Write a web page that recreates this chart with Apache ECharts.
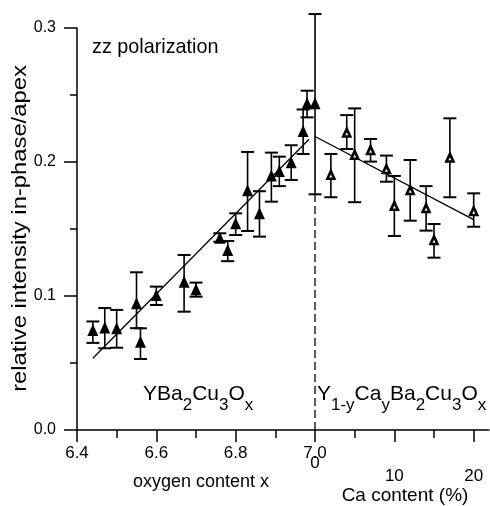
<!DOCTYPE html>
<html><head><meta charset="utf-8">
<script src="https://cdn.jsdelivr.net/npm/echarts@6/dist/echarts.min.js"></script>
<style>html,body{margin:0;padding:0;background:#fff}#c{width:490px;height:506px}</style>
</head><body><div id="c"></div>
<script>
// ---- data ----
const oxygenX    = [6.44, 6.47, 6.50, 6.55, 6.56, 6.60, 6.67, 6.70, 6.76, 6.78, 6.80, 6.83, 6.86, 6.89, 6.91, 6.94, 6.97, 6.98, 7.00];
const oxygenY    = [0.0746, 0.0764, 0.0759, 0.0945, 0.0659, 0.1007, 0.1107, 0.105, 0.1435, 0.1343, 0.1542, 0.179, 0.1617, 0.190, 0.1933, 0.1998, 0.2231, 0.2438, 0.2438];
const oxygenLow  = [0.065, 0.061, 0.0614, 0.076, 0.053, 0.0933, 0.0883, 0.0995, 0.1405, 0.126, 0.1455, 0.1485, 0.1443, 0.1704, 0.182, 0.1866, 0.206, 0.2333, 0.1759];
const oxygenHigh = [0.081, 0.091, 0.0896, 0.1177, 0.0759, 0.107, 0.1306, 0.110, 0.1468, 0.141, 0.1617, 0.2075, 0.1782, 0.2070, 0.204, 0.2125, 0.2392, 0.2532, 0.3104];

const caX    = [2, 4, 5, 7, 9, 10, 12, 14, 15, 17, 20];
const caY    = [0.191, 0.2226, 0.206, 0.2095, 0.1953, 0.168, 0.1796, 0.1662, 0.1423, 0.204, 0.164];
const caLow  = [0.1737, 0.2097, 0.170, 0.2003, 0.1853, 0.1448, 0.1562, 0.1488, 0.1286, 0.1737, 0.1517];
const caHigh = [0.206, 0.235, 0.240, 0.2172, 0.2048, 0.1896, 0.2015, 0.182, 0.1537, 0.2326, 0.1766];

const oxygenFitX = [6.44, 6.985];
const oxygenFitY = [0.0535, 0.217];
const caFitX = [0, 20];
const caFitY = [0.219, 0.157];
const dividerX = [0, 0];
const dividerY = [0, 0.176];

const oxygenTickLabels = [6.4, 6.6, 6.8, 7.0];
const oxygenMinorTicks = [6.5, 6.7, 6.9];
const caTickLabelsA = [0];
const caTickLabelsB = [10, 20];
const caMajorTicks = [0, 10, 20];
const caMinorTicks = [5, 15];
const yTickLabels = [0, 0.1, 0.2, 0.3];

const yTitle = 'relative intensity in-phase/apex';
const oxygenTitle = 'oxygen content x';
const caTitle = 'Ca content (%)';
const panelTitle = 'zz polarization';

// ---- helpers ----
const FONT = '"Liberation Sans", Arial, Helvetica, sans-serif';
const zip = (a, b) => a.map((v, i) => [v, b[i]]);
const zip3 = (a, b, c) => a.map((v, i) => [v, b[i], c[i]]);

function errRender(params, api) {
  const x = api.value(0), lo = api.value(1), hi = api.value(2);
  const pLo = api.coord([x, lo]);
  const pHi = api.coord([x, hi]);
  const hw = 6.5;
  const st = { stroke: '#000', lineWidth: 1.6 };
  const cap = { stroke: '#000', lineWidth: 2 };
  return {
    type: 'group',
    children: [
      { type: 'line', shape: { x1: pLo[0], y1: pLo[1], x2: pHi[0], y2: pHi[1] }, style: st },
      { type: 'line', shape: { x1: pHi[0] - hw, y1: pHi[1], x2: pHi[0] + hw, y2: pHi[1] }, style: cap },
      { type: 'line', shape: { x1: pLo[0] - hw, y1: pLo[1], x2: pLo[0] + hw, y2: pLo[1] }, style: cap }
    ]
  };
}

const axLine = { show: true, onZero: false, lineStyle: { color: '#000', width: 1.5 } };
const noLine = { show: false, onZero: false };
const tickStyle = { color: '#000', width: 1.5 };
const OXMIN = 6.4, OXMAX = 7.4386;
const CAMIN = -30, CAMAX = (OXMAX - 7) * 50;

const richSub = {
  m: { fontSize: 21, fontFamily: FONT, lineHeight: 21, verticalAlign: 'top', fill: '#000' },
  s: { fontSize: 17, fontFamily: FONT, lineHeight: 30, verticalAlign: 'bottom', fill: '#000' }
};

const chart = echarts.init(document.getElementById('c'), null, { renderer: 'canvas' });
chart.setOption({
  animation: false,
  backgroundColor: '#fff',
  grid: { left: 77, top: 28, width: 412, height: 402, containLabel: false, outerBoundsMode: 'none' },
  xAxis: [
    { type: 'value', position: 'bottom', min: OXMIN, max: OXMAX, axisLine: axLine,
      axisTick: { show: true, customValues: oxygenTickLabels, length: 12, lineStyle: tickStyle },
      axisLabel: { show: true, customValues: oxygenTickLabels, formatter: v => v.toFixed(1), fontSize: 17, fontFamily: FONT, color: '#000', margin: 15 },
      splitLine: { show: false } },
    { type: 'value', position: 'bottom', min: OXMIN, max: OXMAX, axisLine: noLine,
      axisTick: { show: true, customValues: oxygenMinorTicks, length: 8, lineStyle: tickStyle },
      axisLabel: { show: false }, splitLine: { show: false } },
    { type: 'value', position: 'bottom', min: CAMIN, max: CAMAX, axisLine: noLine,
      axisTick: { show: true, customValues: caMajorTicks, length: 12, lineStyle: tickStyle },
      axisLabel: { show: true, customValues: caTickLabelsA, formatter: v => String(v), fontSize: 17, fontFamily: FONT, color: '#000', margin: 25 },
      splitLine: { show: false } },
    { type: 'value', position: 'bottom', min: CAMIN, max: CAMAX, axisLine: noLine,
      axisTick: { show: true, customValues: caMinorTicks, length: 8, lineStyle: tickStyle },
      axisLabel: { show: true, customValues: caTickLabelsB, formatter: v => String(v), fontSize: 17, fontFamily: FONT, color: '#000', margin: 38 },
      splitLine: { show: false } }
  ],
  yAxis: [{
    type: 'value', min: 0, max: 0.3, interval: 0.1, axisLine: axLine,
    axisTick: { show: true, length: 13, lineStyle: tickStyle },
    minorTick: { show: true, splitNumber: 2, length: 7, lineStyle: tickStyle },
    axisLabel: { customValues: yTickLabels, formatter: v => v.toFixed(1), fontSize: 16, fontFamily: FONT, color: '#000', margin: 21 },
    splitLine: { show: false }, minorSplitLine: { show: false }
  }],
  graphic: [
    { type: 'text', x: 20.5, y: 228.5, rotation: Math.PI / 2, scaleX: 1.22, silent: true,
      style: { text: yTitle, font: '19.5px ' + FONT, fill: '#000', align: 'center', verticalAlign: 'middle' } },
    { type: 'text', x: 92, y: 48, silent: true,
      style: { text: panelTitle, font: '19.8px ' + FONT, fill: '#000', align: 'left', verticalAlign: 'middle' } },
    { type: 'text', x: 201, y: 482, silent: true,
      style: { text: oxygenTitle, font: '18px ' + FONT, fill: '#000', align: 'center', verticalAlign: 'middle' } },
    { type: 'text', x: 405, y: 496, silent: true,
      style: { text: caTitle, font: '19px ' + FONT, fill: '#000', align: 'center', verticalAlign: 'middle' } },
    { type: 'text', x: 143, y: 384, silent: true,
      style: { text: '{m|YBa}{s|2}{m|Cu}{s|3}{m|O}{s|x}', fill: '#000', align: 'left', verticalAlign: 'top', rich: richSub } },
    { type: 'text', x: 317, y: 384, silent: true,
      style: { text: '{m|Y}{s|1-y}{m|Ca}{s|y}{m|Ba}{s|2}{m|Cu}{s|3}{m|O}{s|x}', fill: '#000', align: 'left', verticalAlign: 'top', rich: richSub } }
  ],
  series: [
    { type: 'line', xAxisIndex: 0, data: zip(oxygenFitX, oxygenFitY), symbol: 'none', silent: true,
      lineStyle: { color: '#000', width: 1.3 }, z: 1 },
    { type: 'line', xAxisIndex: 2, data: zip(caFitX, caFitY), symbol: 'none', silent: true,
      lineStyle: { color: '#000', width: 1.3 }, z: 1 },
    { type: 'line', xAxisIndex: 2, data: zip(dividerX, dividerY), symbol: 'none', silent: true,
      lineStyle: { color: '#000', width: 1.3, type: [8, 4] }, z: 1 },
    { type: 'custom', xAxisIndex: 0, data: zip3(oxygenX, oxygenLow, oxygenHigh), renderItem: errRender,
      encode: { x: 0, y: [1, 2] }, clip: false, silent: true, z: 2 },
    { type: 'custom', xAxisIndex: 2, data: zip3(caX, caLow, caHigh), renderItem: errRender,
      encode: { x: 0, y: [1, 2] }, clip: false, silent: true, z: 2 },
    { type: 'scatter', xAxisIndex: 0, data: zip(oxygenX, oxygenY), symbol: 'triangle', symbolSize: [11, 12],
      itemStyle: { color: '#000', opacity: 1 }, silent: true, z: 3 },
    { type: 'scatter', xAxisIndex: 2, data: zip(caX, caY), symbol: 'triangle', symbolSize: [11, 12],
      itemStyle: { color: '#000', opacity: 1 }, silent: true, z: 3 },
    { type: 'scatter', xAxisIndex: 2, data: zip(caX, caY), symbol: 'triangle', symbolSize: [3, 3],
      symbolOffset: [0, 2], itemStyle: { color: '#fff', opacity: 1 }, silent: true, z: 4 }
  ]
});
</script>
</body></html>
